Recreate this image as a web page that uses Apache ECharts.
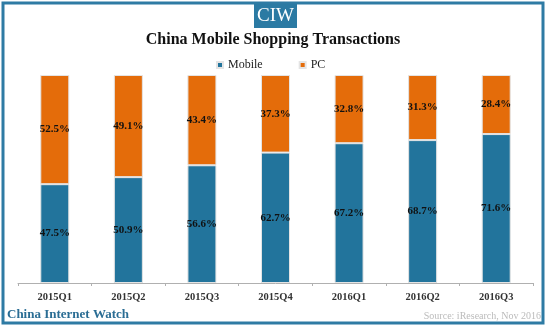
<!DOCTYPE html>
<html><head><meta charset="utf-8">
<script src="https://cdn.jsdelivr.net/npm/echarts@6/dist/echarts.min.js"></script>
<style>html,body{margin:0;padding:0;background:#fff}#c{width:546px;height:327px}</style>
</head><body><div id="c"></div>
<script>
const categories = ['2015Q1','2015Q2','2015Q3','2015Q4','2016Q1','2016Q2','2016Q3'];
const mobile = [47.5, 50.9, 56.6, 62.7, 67.2, 68.7, 71.6];
const pc = [52.5, 49.1, 43.4, 37.3, 32.8, 31.3, 28.4];
const serif = '"Liberation Serif", "Times New Roman", serif';
const chart = echarts.init(document.getElementById('c'));
const lbl = {show:true, position:'inside', formatter: p => p.value.toFixed(1)+'%', color:'#111', fontFamily:serif, fontWeight:'bold', fontSize:11};
chart.setOption({
  animation:false,
  title:{text:'China Mobile Shopping Transactions', left:'center', top:27, textStyle:{fontFamily:serif, fontWeight:'bold', fontSize:16, color:'#111'}},
  legend:{top:54, left:211, itemWidth:6, itemHeight:6, itemGap:36, icon:'rect', textStyle:{fontFamily:serif, fontSize:12, color:'#222'}, data:['Mobile','PC']},
  grid:{left:18, right:13, top:75, bottom:44},
  xAxis:{type:'category', data:categories, axisLine:{lineStyle:{color:'#b0b0b0'}}, axisTick:{show:true, length:3, lineStyle:{color:'#b0b0b0'}}, axisLabel:{fontFamily:serif, fontWeight:'bold', fontSize:10.5, color:'#333', margin:9}},
  yAxis:{type:'value', min:0, max:100, show:false, splitLine:{show:false}},
  series:[
    {name:'Mobile', type:'bar', stack:'a', data:mobile, barWidth:29, itemStyle:{color:'#22749c', borderColor:'#e4e4e4', borderWidth:1}, label:lbl},
    {name:'PC', type:'bar', stack:'a', data:pc, barWidth:29, itemStyle:{color:'#e46c0a', borderColor:'#e4e4e4', borderWidth:1}, label:lbl}
  ],
  graphic:[
    {type:'rect', shape:{x:3, y:3, width:540, height:320}, style:{fill:'none', stroke:'#2e7ba4', lineWidth:3}},
    {type:'rect', shape:{x:254, y:4, width:43, height:24}, style:{fill:'#2b7aa3'}},
    {type:'text', x:275.5, y:16, style:{text:'CIW', fill:'#fff', font:'19px '+serif, textAlign:'center', textVerticalAlign:'middle'}},
    {type:'text', x:7, y:315, style:{text:'China Internet Watch', fill:'#2a6d94', font:'bold 13px '+serif, textVerticalAlign:'middle'}},
    {type:'text', x:541, y:316, style:{text:'Source: iResearch, Nov 2016', fill:'#bbbbbb', font:'10px '+serif, textAlign:'right', textVerticalAlign:'middle'}}
  ]
});
</script></body></html>
